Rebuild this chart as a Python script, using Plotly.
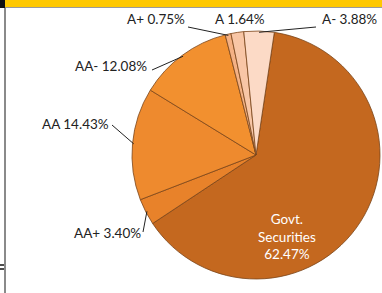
import math
import plotly.graph_objects as go

labels = ["Govt. Securities", "AA+", "AA", "AA-", "A+", "A", "A-"]
values = [62.47, 3.40, 14.43, 12.08, 0.75, 1.64, 3.88]
colors = ["#C4681F", "#E8822A", "#EE8A2E", "#F2902F", "#F4B184", "#F8C6A6", "#FCDAC6"]

W, H = 382, 293
CX, CY, R = 256, 155, 124
ROT = 8.5

def px(x):
    return x / W

def py(y):
    return 1 - y / H

fig = go.Figure(go.Pie(
    labels=labels, values=values, sort=False, direction="clockwise", rotation=ROT,
    marker=dict(colors=colors, line=dict(color="#7A4418", width=0.8)),
    textinfo="none", hoverinfo="label+percent", showlegend=False,
    domain=dict(x=[px(CX - R), px(CX + R)], y=[py(CY + R), py(CY - R)]),
))

# slice mid-angles from data
total = sum(values)
mids = []
acc = 0.0
for v in values:
    a0 = ROT + acc / total * 360
    acc += v
    a1 = ROT + acc / total * 360
    mids.append((a0 + a1) / 2)

def edge(i, f=0.97):
    a = math.radians(mids[i])
    return CX + f * R * math.sin(a), CY - f * R * math.cos(a)

# label layout: (index, text anchor pixel x, y, xanchor, leader start x, y)
label_layout = [
    (1, 143, 233, "right", 143, 232),
    (2, 111, 124, "right", 112, 125),
    (3, 149, 66, "right", 152, 70),
    (4, 187, 19, "right", 188, 27),
    (5, 240, 19, "center", None, None),
    (6, 320, 19, "left", 316, 27),
]

shapes = []
annotations = []
font = dict(family="Lato, Open Sans, sans-serif", size=13.5, color="#222222")
for i, tx, ty, xa, lx, ly in label_layout:
    pct = values[i]
    annotations.append(dict(
        x=px(tx), y=py(ty), xref="paper", yref="paper", xanchor=xa, yanchor="middle",
        text=f"{labels[i]} {pct:.2f}%", showarrow=False, font=font))
    if lx is not None:
        ex, ey = edge(i, 0.99)
        shapes.append(dict(type="line", xref="paper", yref="paper",
                           x0=px(lx), y0=py(ly), x1=px(ex), y1=py(ey),
                           line=dict(color="#222222", width=1)))

annotations.append(dict(
    x=px(287), y=py(236), xref="paper", yref="paper", showarrow=False,
    xanchor="center", yanchor="middle",
    text=f"Govt.<br>Securities<br>{values[0]:.2f}%",
    font=dict(family="Lato, Open Sans, sans-serif", size=13.5, color="white")))

# frame decoration: top gold band and left border
shapes += [
    dict(type="rect", xref="paper", yref="paper", x0=0, x1=1, y0=py(7), y1=1,
         fillcolor="#FFC800", line=dict(width=0), layer="below"),
    dict(type="line", xref="paper", yref="paper", x0=px(5), x1=1, y0=py(7.5), y1=py(7.5),
         line=dict(color="#9a9a9a", width=1)),
    dict(type="line", xref="paper", yref="paper", x0=px(5), x1=px(5), y0=0, y1=py(7),
         line=dict(color="#8a8a8a", width=2)),
    dict(type="rect", xref="paper", yref="paper", x0=0, x1=px(5), y0=py(8), y1=1,
         fillcolor="#111111", line=dict(width=0)),
    dict(type="line", xref="paper", yref="paper", x0=0, x1=px(4), y0=py(265), y1=py(265),
         line=dict(color="#111111", width=1.5)),
    dict(type="line", xref="paper", yref="paper", x0=0, x1=px(4), y0=py(269), y1=py(269),
         line=dict(color="#111111", width=1.5)),
]

fig.update_layout(width=W, height=H, margin=dict(l=0, r=0, t=0, b=0),
                  paper_bgcolor="white", plot_bgcolor="white",
                  shapes=shapes, annotations=annotations)
fig.write_html("out.html", config={"displayModeBar": False},
               post_script="document.body.style.margin='0';document.body.style.overflow='hidden';")
